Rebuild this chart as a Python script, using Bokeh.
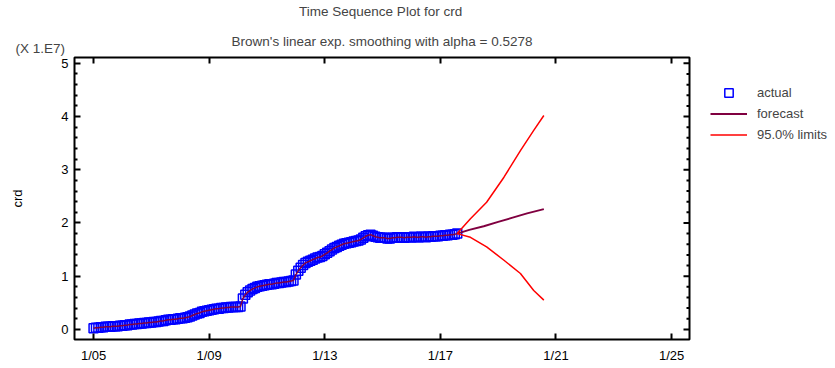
from bokeh.plotting import figure
from bokeh.models import (LinearAxis, FixedTicker, Legend, LegendItem, Range1d, Title)
from bokeh.embed import file_html
from bokeh.resources import INLINE

# ---------------- data (values in units of 1E7) ----------------
start_year = 2005
actual = [
    0.02, 0.03, 0.03, 0.04, 0.04, 0.05, 0.05, 0.05, 0.06, 0.06, 0.06, 0.07,  # 2005
    0.07, 0.08, 0.08, 0.09, 0.09, 0.10, 0.10, 0.11, 0.11, 0.12, 0.12, 0.13,  # 2006
    0.13, 0.14, 0.14, 0.15, 0.16, 0.16, 0.17, 0.18, 0.18, 0.19, 0.19, 0.20,  # 2007
    0.21, 0.21, 0.22, 0.23, 0.24, 0.26, 0.28, 0.30, 0.31, 0.33, 0.34, 0.35,  # 2008
    0.36, 0.37, 0.38, 0.39, 0.39, 0.40, 0.40, 0.41, 0.41, 0.42, 0.42, 0.42,  # 2009
    0.42, 0.43, 0.58, 0.65, 0.70, 0.73, 0.76, 0.78, 0.80, 0.81, 0.82, 0.83,  # 2010
    0.84, 0.85, 0.85, 0.86, 0.87, 0.87, 0.88, 0.89, 0.89, 0.90, 0.91, 0.92,  # 2011
    1.03, 1.10, 1.16, 1.21, 1.25, 1.27, 1.29, 1.31, 1.33, 1.35, 1.36, 1.38,  # 2012
    1.41, 1.44, 1.47, 1.50, 1.53, 1.55, 1.57, 1.59, 1.61, 1.62, 1.63, 1.64,  # 2013
    1.65, 1.66, 1.67, 1.69, 1.72, 1.75, 1.77, 1.78, 1.76, 1.74, 1.73, 1.72,  # 2014
    1.72, 1.72, 1.71, 1.71, 1.72, 1.72, 1.73, 1.73, 1.73, 1.72, 1.73, 1.73,  # 2015
    1.73, 1.74, 1.73, 1.73, 1.74, 1.74, 1.73, 1.74, 1.74, 1.75, 1.75, 1.75,  # 2016
    1.76, 1.76, 1.77, 1.77, 1.78, 1.78, 1.79, 1.80,                          # 2017
]
actual_x = [start_year + i / 12 for i in range(len(actual))]

fc_x = [2017.58, 2018.0, 2018.5, 2019.0, 2019.5, 2020.0, 2020.58]
fc_y = [1.80, 1.87, 1.94, 2.02, 2.10, 2.18, 2.26]

lim_x = [2017.58, 2018.04, 2018.6, 2019.2, 2019.77, 2020.23, 2020.58]
upper = [1.80, 2.08, 2.39, 2.86, 3.36, 3.74, 4.02]
lower = [1.80, 1.73, 1.55, 1.30, 1.05, 0.73, 0.55]

x_ticks = [2005, 2009, 2013, 2017, 2021, 2025]
x_tick_labels = ["1/05", "1/09", "1/13", "1/17", "1/21", "1/25"]
y_ticks = [0, 1, 2, 3, 4, 5]
y_minor_ticks = [i / 5 for i in range(0, 26) if i % 5 != 0]

title_text = "Time Sequence Plot for crd"
subtitle_text = "Brown's linear exp. smoothing with alpha = 0.5278"
scale_text = "(X 1.E7)"
y_label = "crd"

FONT = "Liberation Sans"
BLUE = "#0000FF"
FC = "#800040"
RED = "#FF0000"

X_START, X_END = 2004.34, 2025.62
Y_START, Y_END = -0.19, 5.11

p = figure(frame_width=615, frame_height=282, output_backend="svg", toolbar_location=None,
           x_range=Range1d(X_START, X_END), y_range=Range1d(Y_START, Y_END),
           x_axis_type=None, y_axis_type=None, title=None,
           min_border_left=74, min_border_right=0, min_border_top=57, min_border_bottom=29)
p.xgrid.visible = False
p.ygrid.visible = False
p.outline_line_color = "black"
p.outline_line_width = 2
p.background_fill_color = "white"
p.border_fill_color = "white"


def make_axis(ticks, labels=None, show_labels=True, minor=None, standoff=6):
    ax = LinearAxis(ticker=FixedTicker(ticks=ticks, minor_ticks=minor or []))
    ax.axis_line_color = None
    ax.major_tick_in = 6
    ax.major_tick_out = 0
    ax.major_tick_line_width = 2
    ax.minor_tick_in = 3
    ax.minor_tick_out = 0
    ax.minor_tick_line_width = 2
    ax.major_label_text_font = FONT
    ax.major_label_text_color = "black"
    if show_labels:
        ax.major_label_text_font_size = "13px"
        ax.major_label_standoff = standoff
    else:
        ax.major_label_text_font_size = "0px"
        ax.major_label_standoff = 0
    if labels:
        ax.major_label_overrides = {t: l for t, l in zip(ticks, labels)}
    return ax


p.add_layout(make_axis(x_ticks, x_tick_labels, standoff=8), "below")
left_axis = make_axis(y_ticks, minor=y_minor_ticks, standoff=6)
left_axis.axis_label = y_label
left_axis.axis_label_text_font = FONT
left_axis.axis_label_text_font_size = "13px"
left_axis.axis_label_text_font_style = "normal"
left_axis.axis_label_text_color = "black"
left_axis.axis_label_standoff = 33
p.add_layout(left_axis, "left")
p.add_layout(make_axis(x_ticks, show_labels=False), "above")

# inward tick marks on the right edge (half of each dash is clipped by the frame)
p.scatter([X_END] * len(y_ticks), y_ticks, marker="dash", size=12,
          line_color="black", line_width=2)
p.scatter([X_END] * len(y_minor_ticks), y_minor_ticks, marker="dash", size=6,
          line_color="black", line_width=2)

r_act = p.scatter(actual_x, actual, marker="square", size=9, fill_color=None,
                  line_color=BLUE, line_width=1.5)
r_fc_hist = p.line(actual_x, actual, line_color=FC, line_width=1.5)
r_fc = p.line(fc_x, fc_y, line_color=FC, line_width=2)
r_up = p.line(lim_x, upper, line_color=RED, line_width=1.5)
r_lo = p.line(lim_x, lower, line_color=RED, line_width=1.5)

legend = Legend(items=[LegendItem(label="actual", renderers=[r_act]),
                       LegendItem(label="forecast", renderers=[r_fc]),
                       LegendItem(label="95.0% limits", renderers=[r_up])],
                location="top_left", border_line_color=None, background_fill_alpha=0,
                padding=0, margin=21, spacing=0, glyph_width=37, glyph_height=21,
                label_height=21, label_standoff=10,
                title=" ", title_text_font_size="1px", title_standoff=3,
                label_text_font=FONT, label_text_font_size="13px")
p.add_layout(legend, "right")

# rows stacked above the frame (first added = closest to frame)
p.add_layout(Title(text=scale_text, align="left", offset=-59, standoff=3,
                   text_font=FONT, text_font_size="13.5px", text_font_style="normal"), "above")
pad = "\u00a0" * 18   # centres the shorter first line over the second one
p.add_layout(Title(text=pad + title_text + "\n" + subtitle_text, align="center", standoff=-23,
                   text_line_height=2.0,
                   text_font=FONT, text_font_size="13.5px", text_font_style="normal"), "above")

open("out.html", "w").write(file_html(p, INLINE))
